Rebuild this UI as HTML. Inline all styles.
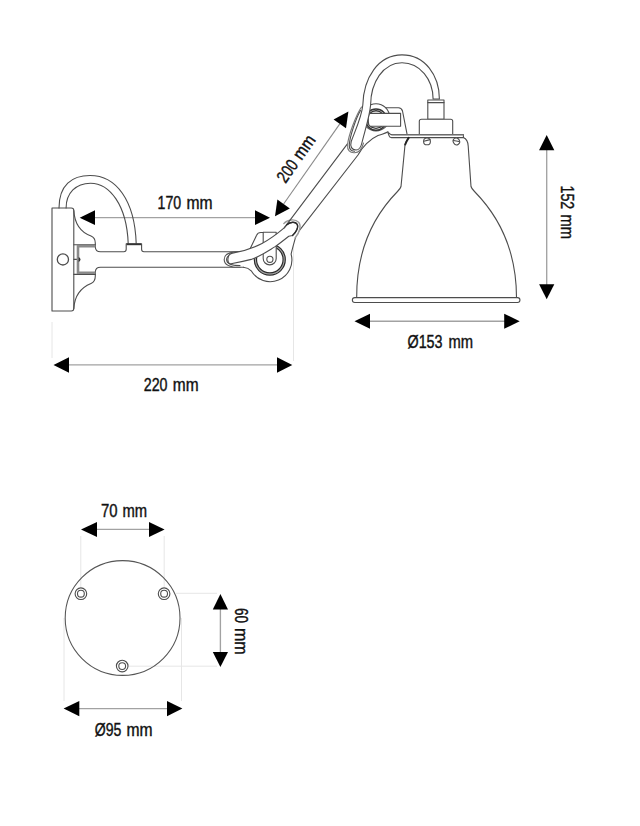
<!DOCTYPE html>
<html><head><meta charset="utf-8">
<style>
html,body{margin:0;padding:0;background:#fff;width:640px;height:826px;overflow:hidden}
svg{display:block}
text{font-family:"Liberation Sans",sans-serif;font-size:17.5px;fill:#111;stroke:#111;stroke-width:0.4}
.d{stroke:#4d4d4d;stroke-width:1.1;stroke-linecap:round;stroke-linejoin:round}
.dm{fill:none;stroke:#a2a2a2;stroke-width:1.35}
.ex{fill:none;stroke:#e6e6e6;stroke-width:1}
.ar{fill:#000;stroke:none}
</style></head>
<body>
<svg width="640" height="826" viewBox="0 0 640 826">
<!-- extension lines -->
<g class="ex">
  <line x1="52" y1="322" x2="52" y2="358"/>
  <line x1="293.5" y1="226" x2="293.5" y2="361"/>
  <line x1="80.8" y1="536" x2="80.8" y2="587"/>
  <line x1="164.2" y1="536" x2="164.2" y2="587"/>
  <line x1="176" y1="593.3" x2="217" y2="593.3"/>
  <line x1="128" y1="666.2" x2="217" y2="666.2"/>
  <line x1="64" y1="618" x2="64" y2="701"/>
  <line x1="181.5" y1="618" x2="181.5" y2="701"/>
</g>
<!-- dimension lines -->
<g class="dm">
  <line x1="94" y1="217.6" x2="256" y2="217.6"/>
  <line x1="68" y1="364.8" x2="278" y2="364.8"/>
  <line x1="369" y1="321.2" x2="505" y2="321.2"/>
  <line x1="546.7" y1="150" x2="546.7" y2="285"/>
  <line x1="96" y1="529.4" x2="150" y2="529.4"/>
  <line x1="220.4" y1="609" x2="220.4" y2="653"/>
  <line x1="79" y1="708.6" x2="168" y2="708.6"/>
  <line x1="283.6" y1="204" x2="339.8" y2="123.9" stroke="#8a8a8a" stroke-width="1.1"/>
</g>
<!-- arrowheads -->
<g class="ar">
  <polygon points="79.7,217.7 95,210.3 95,225.1"/>
  <polygon points="270,217.7 255,210.3 255,225.1"/>
  <polygon points="53.5,365 69,357.3 69,372.7"/>
  <polygon points="292.3,365 277,357.3 277,372.7"/>
  <polygon points="354.5,321.2 370,313.7 370,328.8"/>
  <polygon points="519.7,321.2 504.2,313.7 504.2,328.8"/>
  <polygon points="546.7,135 539.1,150.3 554.3,150.3"/>
  <polygon points="546.7,299.2 539.1,284.2 554.3,284.2"/>
  <polygon points="81,529.4 97,522 97,537"/>
  <polygon points="164.6,529.4 149,522 149,537"/>
  <polygon points="220.4,594 212.8,609.5 228,609.5"/>
  <polygon points="220.4,667 212.8,652 228,652"/>
  <polygon points="63.6,708.6 79.3,701 79.3,716.2"/>
  <polygon points="182.4,708.6 167,701 167,716.2"/>
  <polygon points="275,216.3 277.4,199.6 289.8,208.4"/>
  <polygon points="348.4,111.6 333.6,119.5 346,128.3"/>
</g>
<!-- texts -->
<text x="157.50" y="208.5" textLength="23.63" lengthAdjust="spacingAndGlyphs">170</text>
<text x="186.50" y="208.5" textLength="26.11" lengthAdjust="spacingAndGlyphs">mm</text>
<text x="143.75" y="390.6" textLength="23.81" lengthAdjust="spacingAndGlyphs">220</text>
<text x="172.75" y="390.6" textLength="25.80" lengthAdjust="spacingAndGlyphs">mm</text>
<text x="407.50" y="347.9" textLength="35.01" lengthAdjust="spacingAndGlyphs">Ø153</text>
<text x="448.50" y="347.9" textLength="24.59" lengthAdjust="spacingAndGlyphs">mm</text>
<text x="101.00" y="517.3" textLength="16.54" lengthAdjust="spacingAndGlyphs">70</text>
<text x="122.50" y="517.3" textLength="24.62" lengthAdjust="spacingAndGlyphs">mm</text>
<text x="94.75" y="735.6" textLength="26.52" lengthAdjust="spacingAndGlyphs">Ø95</text>
<text x="126.50" y="735.6" textLength="26.11" lengthAdjust="spacingAndGlyphs">mm</text>
<text transform="translate(560.9,0) rotate(90)" x="185.50" y="0" textLength="23.63" lengthAdjust="spacingAndGlyphs">152</text>
<text transform="translate(560.9,0) rotate(90)" x="214.50" y="0" textLength="24.68" lengthAdjust="spacingAndGlyphs">mm</text>
<text transform="translate(234.8,0) rotate(90)" x="608.00" y="0" textLength="15.03" lengthAdjust="spacingAndGlyphs">60</text>
<text transform="translate(234.8,0) rotate(90)" x="628.00" y="0" textLength="26.65" lengthAdjust="spacingAndGlyphs">mm</text>
<g transform="translate(285.6,183.9) rotate(-55.1)"><text x="0.00" y="0" textLength="23.03" lengthAdjust="spacingAndGlyphs">200</text><text x="28.00" y="0" textLength="25.57" lengthAdjust="spacingAndGlyphs">mm</text></g>

<!-- ===== drawing ===== -->
<g class="d" fill="none">
  <!-- wall plate -->
  <path d="M52,208 H71.3 Q73.8,208 73.8,210.5 V308.5 Q73.8,311 71.3,311 H52 Z"/>
  <circle cx="62.9" cy="259.4" r="5.6" stroke-width="1.3"/>
  <!-- bracket profile -->
  <path d="M73.8,210.5 C74.5,222 80,232 91,236 C94.5,237.5 95.3,240 95.3,243 V247 C95.4,250 97,251.7 100.5,251.7 H123.8 Q126.2,251.7 126.2,249.3 V243.7 H141.6 V249.3 Q141.6,251.7 144,251.7 H240"/>
  <path d="M73.8,308.5 C74.5,297 80,288 91,283.5 C94.5,282 95.3,279 95.3,276 V272 C95.4,269 97,267.2 100.5,267.2 H243.6"/>
  <path d="M73.8,244.8 H95.3 M73.8,274.4 H95.3 M73.8,259.4 H78"/>
  <!-- cable 1 -->
  <path d="M59,208 C59,185 72,175.5 90,175.5 C116,175.5 134.8,200 136.2,243.6"/>
  <path d="M66.1,208 C66.1,193 76,183.2 90.5,183.2 C109.5,183.2 126.8,205 128.2,243.6"/>
</g>
<path d="M95.3,246.2 H78 V272.8 H95.3" fill="none" stroke="#8a8a8a" stroke-width="2.6"/>
<path d="M126.6,244.3 H141.2" fill="none" stroke="#333" stroke-width="1.8"/>
<path d="M78.6,256.9 A2.6,2.6 0 0 1 78.6,261.9 Z" fill="#333"/>

<!-- upper arm -->
<g class="d" fill="none">
  <path d="M296.4,234.4 L358,155 C362,147 370,139 378,135.5 C382,134 385.5,133.5 388,131.8"/>
</g>
<!-- elbow body -->
<g class="d" fill="none">
  <path d="M243.4,267.2 C247,267.6 249.5,269 251.2,270.8 A21.8,21.8 0 0 0 291.1,254.1 C292.5,248 294.5,241 296.4,234.4" fill="#fff"/>
  <path d="M239,251.8 C244,251.8 247.5,251 250,249 L256.6,235.2 Q257.8,232.5 260.8,232.5 H263" fill="#fff"/>
  <circle cx="269.8" cy="259.6" r="14.4" stroke="#aaa" stroke-width="1.6"/>
  <circle cx="269.8" cy="259.6" r="15.5" stroke="#2a2a2a" stroke-width="1.2"/>
  <circle cx="269.8" cy="259.6" r="13.3" stroke="#2a2a2a" stroke-width="1.2"/>
  <path d="M263.2,232.2 H276.2 V258.4 A6.5,6.5 0 0 1 263.2,258.4 Z" fill="#fff"/>
  <circle cx="269.9" cy="259.3" r="3.1"/>
</g>
<!-- cable 2 -->
<g class="d" fill="none">
  <path d="M240,251.6 C231,251.6 224.2,254 224.2,259.4 C224.2,265 231,267.3 240,267.3" fill="#fff" stroke="#555"/>
  <path d="M240,253 C232.5,253 226.6,255.5 226.6,259.4 C226.6,263.5 232.5,265.6 240,265.6" fill="none"/>
  <path d="M283.8,223.6 C287.5,219.5 295,218.5 298.6,222.3 C301.5,225.5 299.8,232.5 295.2,237.8" fill="#fff" stroke="#999" stroke-width="1.4"/>
  <path d="M232.5,253.1 C242,251.5 252,248.6 262,243.5 C269.5,239.5 277,234 284.2,227.9 L286.8,224.8 C290.5,222 295.5,221.3 297.2,224.3 C298.8,227.2 296,232.5 292.5,235.5 L288.75,236.2 C284,240 279,244 274.7,246.9 C268,251 260,256.5 251.25,259.4 C245,261 238,262.5 231,263.8 C226.5,264.5 226.8,253.8 232.5,253.1 Z" fill="#fff"/>
  <path d="M347.6,143.6 L284.2,227.9"/>
  <path d="M286.8,224.8 C290,221.5 295.5,221.3 297.2,224.3 C298.8,227.2 296,232.5 292.5,235.5" stroke="#2a2a2a" stroke-width="1.4"/>
</g>

<!-- shoulder -->
<g class="d" fill="none">
  <circle cx="376" cy="117.3" r="13.6" fill="#fff"/>
  <circle cx="376" cy="119.6" r="10.6" stroke="#333" stroke-width="1.4"/>
  <circle cx="376" cy="119.6" r="8.8" stroke="#333" stroke-width="1.4"/>
  <path d="M370.5,113.4 H400.6 V126.3 H370.5 Q368.3,126.3 368.3,119.85 Q368.3,113.4 370.5,113.4 Z" fill="#fff"/>
  <path d="M385.6,107.8 H398.5 Q401.5,108 402.5,111 L407,133.8"/>
  <path d="M361.5,107 C356,115 348.5,135 347.6,144.5 C347,150.5 350,153 354.5,152.8 C359,152.5 362,149 363.5,143" stroke="#777" fill="#fff"/>
  <path d="M360.5,110.5 C356,118 350,136 349.3,144.5 C349,149 351,151.3 354.5,151.2"/>
</g>
<!-- cable 3 -->
<path class="d" fill="#fff" d="M439.4,99 C439.4,75.5 425,54.9 402,54.9 C378,54.9 363.5,78 362.8,105 C362,116 355.5,130 351.2,141.5 C349.8,146.5 351.8,150 356,150 C359.5,150 361,147 362,142.5 C364.5,132 369.5,117 370.6,105 C370.8,82.5 383,62.7 402,62.7 C420,62.7 433.1,79.5 433.1,99 Z"/>
<!-- socket -->
<g class="d" fill="#fff">
  <path d="M427.8,100 H444 V119.2 H427.8 Z"/>
  <path d="M427.8,102.6 H444"/>
  <path d="M421.5,119.2 H450.7 Q452.7,119.2 452.7,121.2 V134.6 H419.3 V121.2 Q419.3,119.2 421.5,119.2 Z"/>
  <path d="M391,134.6 H463.4 V137.6 H391.5 Q389.5,137.6 389.2,136 L387.8,132.3 Z"/>
  <path d="M392,135.1 H463" stroke="#999" stroke-width="1"/>
  <circle cx="427" cy="141.4" r="3.4"/>
  <path d="M423.8,141.2 L430,139.6"/>
  <ellipse cx="456.4" cy="141.4" rx="3.1" ry="3.5" transform="rotate(-30 456.4 141.4)"/>
  <path d="M453.5,140.5 L459,141.5"/>
</g>
<!-- shade -->
<g class="d" fill="none">
  <path d="M408.7,137.6 C407,140 405.5,142 405,145 L401,186.5 C400.5,188.5 399,190 397.5,191.5 C371.5,218 356.5,252 356.7,297.6"/>
  <path d="M408.7,137.8 C407.3,140 406,142 405.2,144.5" stroke-width="2" stroke="#222"/>
  <path d="M463.4,137.6 C466.5,139 468,142 468.2,146 L471,186.5 C471.5,188.5 473,190 474.5,191.5 C500.5,218 516.5,252 516.5,297.6"/>
  <path d="M354.8,297.6 H517.5 A2.45,2.45 0 0 1 517.5,302.5 H354.8 A2.45,2.45 0 0 1 354.8,297.6 Z" fill="#fff"/>
</g>

<!-- base plate -->
<g class="d" fill="none">
  <circle cx="122.6" cy="618" r="57.4" stroke="#555" stroke-width="1.05"/>
  <circle cx="80.9" cy="593.7" r="5.8" fill="#fff"/>
  <circle cx="80.9" cy="593.7" r="3.4"/>
  <circle cx="164.1" cy="593.7" r="5.8" fill="#fff"/>
  <circle cx="164.1" cy="593.7" r="3.4"/>
  <circle cx="122.2" cy="666.1" r="5.8" fill="#fff"/>
  <circle cx="122.2" cy="666.1" r="3.4"/>
</g>
</svg>
</body></html>
